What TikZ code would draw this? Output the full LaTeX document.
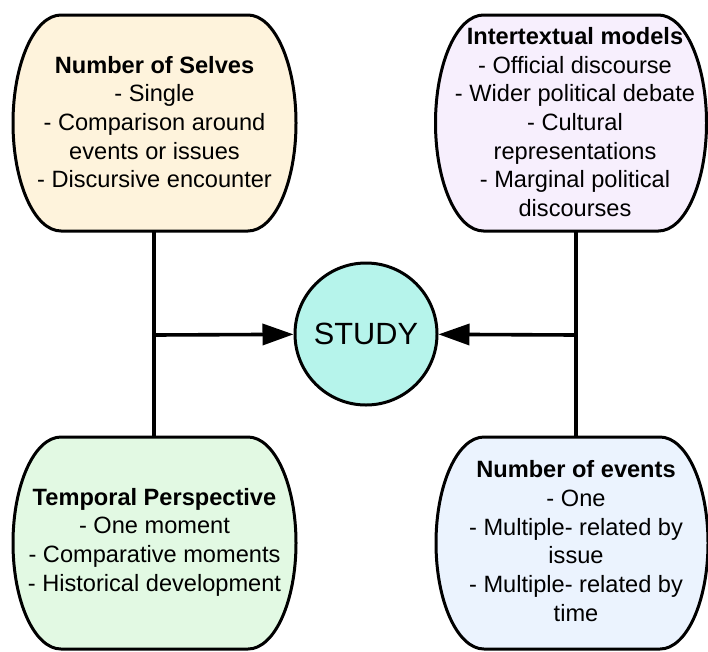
\documentclass[tikz,border=0pt]{standalone}
\usepackage{fontspec}
\setmainfont{Liberation Sans}
\usetikzlibrary{arrows.meta}
\definecolor{fillSelves}{HTML}{FEF3DC}
\definecolor{fillInter}{HTML}{F7EFFD}
\definecolor{fillTemp}{HTML}{E2F9E3}
\definecolor{fillEvents}{HTML}{EBF3FE}
\definecolor{fillStudy}{HTML}{B6F4EB}
\newcommand\bulgebox[6]{%
  \filldraw[boxline, fill=#6]
    ({#1-#3+#5},{#2-#4}) -- ({#1+#3-#5},{#2-#4})
    .. controls ({#1+#3-0.448*#5},{#2-#4}) and ({#1+#3},{#2-0.552*#4}) .. ({#1+#3},{#2})
    .. controls ({#1+#3},{#2+0.552*#4}) and ({#1+#3-0.448*#5},{#2+#4}) .. ({#1+#3-#5},{#2+#4})
    -- ({#1-#3+#5},{#2+#4})
    .. controls ({#1-#3+0.448*#5},{#2+#4}) and ({#1-#3},{#2+0.552*#4}) .. ({#1-#3},{#2})
    .. controls ({#1-#3},{#2-0.552*#4}) and ({#1-#3+0.448*#5},{#2-#4}) .. cycle;}
\begin{document}
\begin{tikzpicture}[x=1pt,y=-1pt,
  boxline/.style={draw=black, line width=3pt},
  conn/.style={draw=black, line width=3.6pt},
  arr/.style={conn, -{Triangle[length=31pt,width=21pt]}},
  boxtext/.style={align=center, inner sep=0pt, text=black,
    font=\fontsize{23.6}{28.7}\selectfont}]
\useasboundingbox (0,0) rectangle (708,651);

% connectors first (under the shapes)
\coordinate (selvesB) at (154,231);
\coordinate (tempT) at (154,437);
\coordinate (interB) at (576,231);
\coordinate (eventsT) at (576,437);
\coordinate (jl) at (154,335);
\coordinate (jr) at (576,335);
\draw[conn] (selvesB) -- (tempT);
\draw[conn] (interB) -- (eventsT);

% shapes
\bulgebox{154.5}{123}{141.5}{108}{48}{fillSelves}
\bulgebox{571}{123}{135.5}{108}{48}{fillInter}
\bulgebox{154.5}{543}{141.5}{106}{48}{fillTemp}
\bulgebox{572}{543}{136}{106}{48}{fillEvents}

% texts
\node[boxtext] (selves) at (154.5,122) {\textbf{Number of Selves}\\- Single\\- Comparison around\\events or issues\\- Discursive encounter};
\node[boxtext] (inter) at (575,122) {\textbf{Intertextual models}\\- Official discourse\\- Wider political debate\\- Cultural\\representations\\- Marginal political\\discourses};
\node[boxtext] (temp) at (154.5,542) {\textbf{Temporal Perspective}\\- One moment\\- Comparative moments\\- Historical development};
\node[boxtext] (events) at (576,541) {\textbf{Number of events}\\- One\\- Multiple- related by\\issue\\- Multiple- related by\\time};

\node[circle, draw=black, line width=3pt, fill=fillStudy, minimum size=142pt, inner sep=0pt,
  font=\fontsize{30.7}{36}\selectfont] (study) at (366,334) {STUDY};

\draw[arr] (jl) -- (study);
\draw[arr] (jr) -- (study);
\end{tikzpicture}
\end{document}
